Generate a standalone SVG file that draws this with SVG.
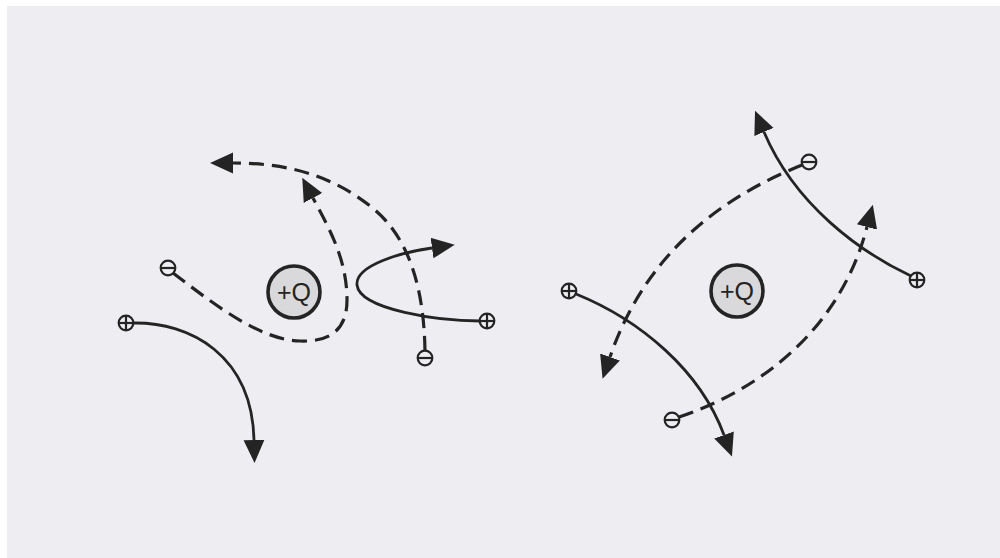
<svg xmlns="http://www.w3.org/2000/svg" width="1000" height="558" viewBox="0 0 1000 558">
  <style>
    .solid { fill: none; stroke: #242424; stroke-width: 2.8; stroke-linecap: butt; }
    .dash { fill: none; stroke: #242424; stroke-width: 3.2; stroke-dasharray: 15 8; }
    .sym { fill: #eeedf2; stroke: #242424; stroke-width: 2.2; }
    .symline { stroke: #242424; stroke-width: 2.2; }
    .charge { fill: #d9d9db; stroke: #242424; stroke-width: 3.6; }
    .qlabel { font-family: "Liberation Sans", Arial, sans-serif; font-size: 25px; fill: #242424; text-anchor: middle; }
  </style>
  <defs>
    <marker id="arrow" markerUnits="userSpaceOnUse" markerWidth="24" markerHeight="24" viewBox="0 -11 23 22" refX="0" refY="0" orient="auto">
      <path d="M0,-10 L22,0 L0,10 Z" fill="#242424"/>
    </marker>
    <g id="plus">
      <circle class="sym" cx="0" cy="0" r="7.3"/>
      <line class="symline" x1="-7.3" y1="0" x2="7.3" y2="0"/>
      <line class="symline" x1="0" y1="-7.3" x2="0" y2="7.3"/>
    </g>
    <g id="minus">
      <circle class="sym" cx="0" cy="0" r="7.3"/>
      <line class="symline" x1="-7.3" y1="0" x2="7.3" y2="0"/>
    </g>
  </defs>

  <rect x="0" y="0" width="1000" height="558" fill="#ffffff"/>
  <rect x="7" y="6" width="993" height="552" fill="#eeedf2"/>

  <g id="connectors">
    <!-- left diagram -->
    <path id="s1" class="solid" d="M133,323 C190,322 252,355 254,440" marker-end="url(#arrow)"/>
    <path id="d1" class="dash" d="M173,273 C215,305 260,340 300,341 C330,342 347,330 347,300 C347,260 330,230 313,198" marker-end="url(#arrow)"/>
    <path id="d2" class="dash" d="M425,351 C424,290 410,240 375,210 C330,172 280,163 233,163" marker-end="url(#arrow)"/>
    <path id="s2" class="solid" d="M480,321 C440,321 360,310 357,285 C355,265 403,252 432,248" marker-end="url(#arrow)"/>
    <!-- right diagram -->
    <path id="s3" class="solid" d="M576,294 C640,320 700,370 724,435" marker-end="url(#arrow)"/>
    <path id="s4" class="solid" d="M911,276 C860,252 795,205 764,132" marker-end="url(#arrow)"/>
    <path id="d3" class="dash" d="M802,165 C740,190 650,240 610,357" marker-end="url(#arrow)"/>
    <path id="d4" class="dash" d="M679,417 C760,390 840,330 867,227" marker-end="url(#arrow)"/>
  </g>

  <g id="charge-left">
    <circle class="charge" cx="294" cy="292" r="26"/>
    <text class="qlabel" x="294" y="301">+Q</text>
  </g>
  <g id="charge-right">
    <circle class="charge" cx="737" cy="291" r="26"/>
    <text class="qlabel" x="737" y="300">+Q</text>
  </g>

  <g id="p1"><use href="#plus" x="126" y="323"/></g>
  <g id="m1"><use href="#minus" x="168" y="268"/></g>
  <g id="m2"><use href="#minus" x="425" y="358"/></g>
  <g id="p2"><use href="#plus" x="487" y="321"/></g>
  <g id="p3"><use href="#plus" x="569" y="291"/></g>
  <g id="p4"><use href="#plus" x="917" y="280"/></g>
  <g id="m3"><use href="#minus" x="809" y="162"/></g>
  <g id="m4"><use href="#minus" x="672" y="420"/></g>
</svg>
